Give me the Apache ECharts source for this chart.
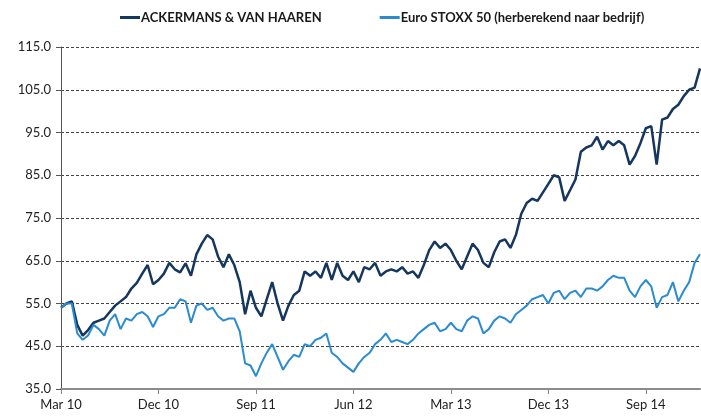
<!DOCTYPE html>
<html>
<head>
<meta charset="utf-8">
<script src="https://cdn.jsdelivr.net/npm/echarts@6/dist/echarts.min.js"></script>
<style>
  html, body { margin: 0; padding: 0; background: #fff; }
  #chart { width: 701px; height: 416px; }
</style>
</head>
<body>
<div id="chart"></div>
<script>
// half-month steps, starting Mar 2010
const tickLabels = ['Mar 10', 'Dec 10', 'Sep 11', 'Jun 12', 'Mar 13', 'Dec 13', 'Sep 14']

const ackermans = [
  54.0, 55.0, 55.5, 50.0, 47.5, 48.8, 50.5, 51.0, 51.5, 53.0,
  54.5, 55.5, 56.5, 58.5, 59.8, 62.0, 64.0, 59.5, 60.5, 62.0,
  64.5, 63.0, 62.3, 64.4, 61.5, 66.5, 69.0, 71.0, 70.0, 66.0,
  63.5, 66.5, 64.0, 60.0, 52.5, 58.0, 54.0, 52.0, 56.0, 60.0,
  55.0, 51.0, 54.5, 57.0, 58.0, 62.5, 61.5, 62.5, 61.0, 64.5,
  60.5, 64.5, 61.5, 60.5, 62.5, 60.0, 63.5, 63.0, 64.5, 61.5,
  62.5, 63.0, 62.5, 63.5, 62.0, 62.5, 61.0, 64.0, 67.5, 69.5,
  68.0, 69.0, 67.5, 65.0, 63.0, 66.0, 69.0, 67.5, 64.5, 63.5,
  67.0, 69.5, 70.0, 68.0, 71.0, 76.0, 78.5, 79.5, 79.0, 81.0,
  83.0, 85.0, 84.5, 79.0, 81.5, 84.0, 90.5, 91.5, 92.0, 94.0,
  91.0, 93.0, 92.0, 93.0, 92.0, 87.5, 89.5, 92.5, 96.0, 96.5,
  87.5, 98.0, 98.5, 100.5, 101.5, 103.5, 105.0, 105.5, 110.0
]

const stoxx = [
  54.0, 55.0, 55.0, 48.0, 46.5, 47.5, 50.0, 49.0, 47.5, 51.0,
  52.5, 49.0, 51.5, 51.0, 52.5, 53.0, 52.0, 49.5, 52.0, 52.5,
  54.0, 54.0, 56.0, 55.5, 50.5, 54.5, 55.0, 53.5, 54.0, 52.0,
  51.0, 51.5, 51.5, 48.5, 41.0, 40.5, 38.0, 41.0, 43.5, 45.5,
  42.5, 39.5, 41.5, 43.0, 42.5, 45.5, 45.0, 46.5, 47.0, 48.0,
  43.5, 42.5, 41.0, 40.0, 39.0, 41.0, 42.5, 43.5, 45.5, 46.5,
  48.0, 46.0, 46.5, 46.0, 45.5, 46.5, 48.0, 49.0, 50.0, 50.5,
  48.5, 49.0, 50.5, 49.0, 48.5, 51.0, 52.0, 51.5, 48.0, 49.0,
  51.0, 52.0, 51.5, 50.5, 52.5, 53.5, 54.5, 56.0, 56.5, 57.0,
  55.0, 57.5, 58.0, 56.0, 57.5, 58.0, 56.5, 58.5, 58.5, 58.0,
  59.0, 60.5, 61.5, 61.0, 61.0, 58.0, 56.5, 59.0, 60.5, 59.0,
  54.0, 56.5, 57.0, 60.0, 55.5, 58.0, 60.0, 64.5, 66.5
]

const categories = []
for (let i = 0; i < ackermans.length; i++) {
  const m = 2 + Math.floor(i / 2)
  const y = 2010 + Math.floor(m / 12)
  categories.push(y + '-' + String(m % 12 + 1).padStart(2, '0') + (i % 2 ? '-16' : '-01'))
}

const chart = echarts.init(document.getElementById('chart'))
chart.setOption({
  animation: false,
  textStyle: { fontFamily: 'Lato, "Open Sans", sans-serif' },
  legend: {
    top: 6,
    left: 115,
    itemWidth: 20,
    itemHeight: 3,
    itemGap: 58,
    icon: 'rect',
    textStyle: { fontSize: 13, fontWeight: 'bold', color: '#1a1a1a', padding: [0, 0, 0, -4] },
    data: ['ACKERMANS & VAN HAAREN', 'Euro STOXX 50 (herberekend naar bedrijf)']
  },
  grid: { left: 61, right: 1, top: 47, bottom: 27 },
  xAxis: {
    type: 'category',
    data: categories,
    boundaryGap: false,
    axisLine: { lineStyle: { color: '#8c8c8c', width: 2 } },
    axisTick: {
      length: 5,
      interval: (idx) => idx % 18 === 0,
      lineStyle: { color: '#8c8c8c', width: 1 }
    },
    axisLabel: {
      interval: (idx) => idx % 18 === 0,
      formatter: (v, idx) => tickLabels[idx / 18],
      color: '#222',
      fontSize: 13,
      margin: 9
    },
    splitLine: { show: false }
  },
  yAxis: {
    type: 'value',
    min: 35,
    max: 115,
    interval: 10,
    axisLine: { show: true, lineStyle: { color: '#555', width: 1 } },
    axisTick: { show: true, length: 5, lineStyle: { color: '#555' } },
    axisLabel: {
      formatter: (v) => v.toFixed(1),
      color: '#222',
      fontSize: 13,
      margin: 10
    },
    splitLine: { lineStyle: { color: '#444', type: [3, 2], width: 1 } }
  },
  series: [
    {
      name: 'ACKERMANS & VAN HAAREN',
      type: 'line',
      data: ackermans,
      symbol: 'none',
      lineStyle: { color: '#15365f', width: 2.5 },
      itemStyle: { color: '#15365f' }
    },
    {
      name: 'Euro STOXX 50 (herberekend naar bedrijf)',
      type: 'line',
      data: stoxx,
      symbol: 'none',
      lineStyle: { color: '#2b8bd0', width: 2 },
      itemStyle: { color: '#2b8bd0' }
    }
  ]
})
</script>
</body>
</html>
